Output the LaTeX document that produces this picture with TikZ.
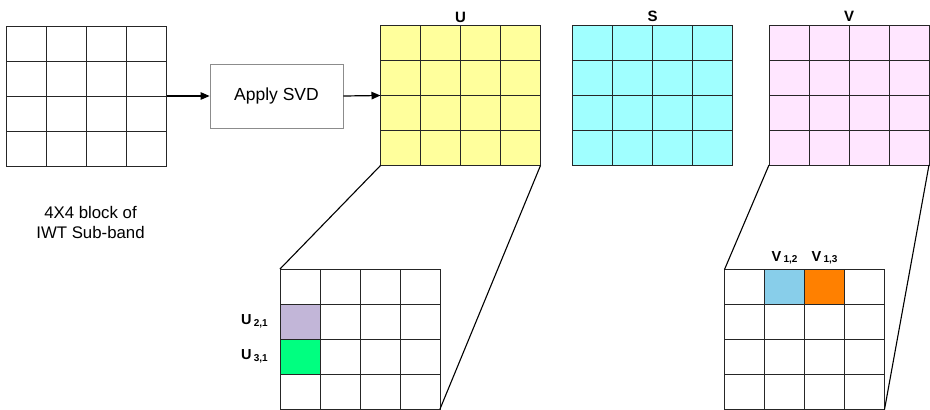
\documentclass[tikz,border=0pt]{standalone}
\usepackage{fontspec}
\setmainfont{Liberation Sans}
\usepackage{tikz}
\usetikzlibrary{arrows.meta,positioning,calc}

\definecolor{uyellow}{HTML}{FFFF9C}
\definecolor{scyan}{HTML}{A0FFFF}
\definecolor{vpink}{HTML}{FFE6FF}
\definecolor{lavender}{HTML}{C2B6D8}
\definecolor{mint}{HTML}{00FF80}
\definecolor{skyblue}{HTML}{88CEEA}
\definecolor{amber}{HTML}{FF8000}

\tikzset{
  matrixbox/.style={draw=black!85, line width=0.8pt, minimum width=160pt, minimum height=140pt, inner sep=0pt, outer sep=0pt},
  cell/.style={draw=black!85, line width=0.8pt, minimum width=40pt, minimum height=35pt, inner sep=0pt, outer sep=0pt, anchor=north west},
  gridline/.style={black!85, line width=0.8pt},
  zoomline/.style={line width=1.1pt},
  flow/.style={-{Triangle[length=9pt,width=7.5pt]}, line width=1.2pt},
  mtitle/.style={inner sep=0pt, font=\bfseries\fontsize{15}{18}\selectfont},
  idx/.style={inner sep=0pt, font=\bfseries\fontsize{14.5}{17}\selectfont}
}

\begin{document}
\begin{tikzpicture}[x=1pt, y=-1pt]
    \useasboundingbox (0,0) rectangle (930,410);

    % input block and the SVD step
    \node [matrixbox] (blk) at (86.5,96) {};
    \node [draw=black!45, line width=0.8pt, minimum width=133pt, minimum height=64pt, font=\fontsize{17.5}{20}\selectfont] (svd) at (276.5,96) {Apply SVD};
    \node [font=\fontsize{16.8}{19.5}\selectfont, align=center] (caption) at (90.5,222.5) {4X4 block of\\IWT Sub-band};

    % the three factors
    \node [matrixbox, fill=uyellow] (U) at (460.5,95.5) {};
    \node [matrixbox, fill=scyan] (S) at (652.5,95) {};
    \node [matrixbox, fill=vpink] (V) at (849,95) {};
    \node [mtitle, above=3pt of U] (Utitle) {U};
    \node [mtitle, above=3pt of S] (Stitle) {S};
    \node [mtitle, above=3pt of V] (Vtitle) {V};

    % enlarged copies of U and V
    \node [matrixbox] (Uz) at (360,339) {};
    \node [matrixbox] (Vz) at (804.5,339.5) {};

    % marked entries
    \node [cell, fill=lavender] (u21) at ($(Uz.north west)+(0,35)$) {};
    \node [cell, fill=mint] (u31) at ($(Uz.north west)+(0,70)$) {};
    \node [cell, fill=skyblue] (v12) at ($(Vz.north west)+(40,0)$) {};
    \node [cell, fill=amber] (v13) at ($(Vz.north west)+(80,0)$) {};

    \foreach \m in {blk,U,S,V,Uz,Vz}
      \foreach \i in {1,2,3} {
        \draw [gridline] ($(\m.north west)!\i/4!(\m.north east)$) -- ($(\m.south west)!\i/4!(\m.south east)$);
        \draw [gridline] ($(\m.north west)!\i/4!(\m.south west)$) -- ($(\m.north east)!\i/4!(\m.south east)$);
      }

    \node [idx, left=12pt of u21] (u21lbl) {U\,\raisebox{-1.5pt}{\fontsize{10}{12}\selectfont 2,1}};
    \node [idx, left=12pt of u31] (u31lbl) {U\,\raisebox{-1.5pt}{\fontsize{10}{12}\selectfont 3,1}};
    \node [idx, above=5pt of v12] (v12lbl) {V\,\raisebox{-1.5pt}{\fontsize{10}{12}\selectfont 1,2}};
    \node [idx, above=5pt of v13] (v13lbl) {V\,\raisebox{-1.5pt}{\fontsize{10}{12}\selectfont 1,3}};

    \draw [flow] (blk.east) -- (svd.west);
    \draw [flow] (svd.east) -- (U.west);

    \draw [zoomline] (U.south west) -- (Uz.north west);
    \draw [zoomline] (U.south east) -- (Uz.south east);
    \draw [zoomline] (V.south west) -- (Vz.north west);
    \draw [zoomline] (V.south east) -- (Vz.south east);
\end{tikzpicture}
\end{document}
